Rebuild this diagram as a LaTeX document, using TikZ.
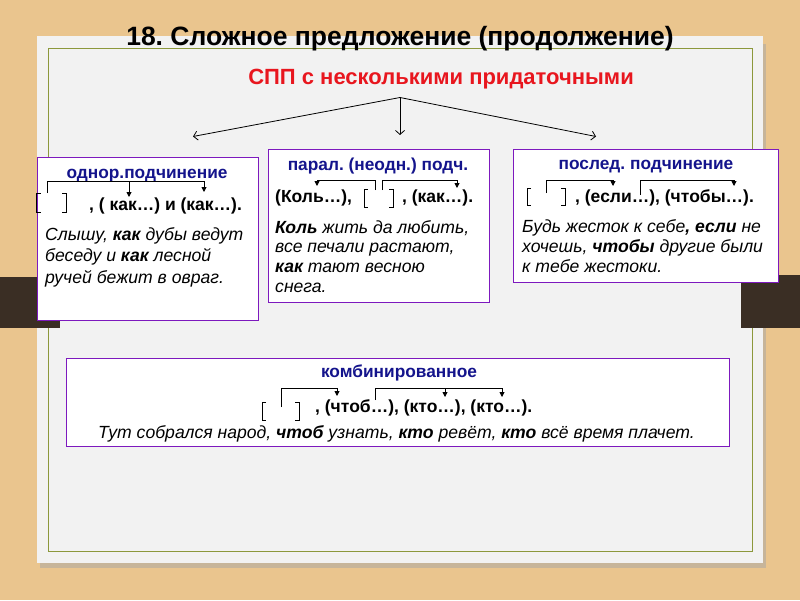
\documentclass[tikz,border=0pt]{standalone}
\usepackage{fontspec}
\setmainfont{Liberation Sans}
\usetikzlibrary{arrows.meta}
\frenchspacing
\definecolor{wood}{RGB}{234,197,142}
\definecolor{paper}{RGB}{242,242,242}
\definecolor{olive}{RGB}{140,152,60}
\definecolor{darkwood}{RGB}{58,46,36}
\definecolor{boxline}{RGB}{125,25,190}
\definecolor{ttlblue}{RGB}{20,20,140}
\definecolor{ttlred}{RGB}{232,22,30}
\tikzset{
  panel/.style={draw=boxline, line width=1.4pt, fill=white},
  boxtitle/.style={font=\fontsize{17.3}{20}\selectfont\bfseries, text=ttlblue, inner sep=0pt, anchor=base},
  schema/.style={font=\fontsize{17.5}{20}\selectfont\bfseries, inner sep=0pt, anchor=base west},
  example/.style={font=\fontsize{17.6}{20}\selectfont\itshape, inner sep=0pt, anchor=base west},
  sline/.style={line width=0.9pt},
  sarrow/.style={line width=0.9pt, -{Triangle[length=5pt,width=5pt]}},
  brk/.style={line width=0.9pt},
  toparrow/.style={line width=0.8pt, -{Straight Barb[length=4pt,width=9pt]}},
}
\newcommand{\lbrk}[3]{\draw[brk] (#1+4,#2) -- (#1,#2) -- (#1,#3) -- (#1+4,#3);}
\newcommand{\rbrk}[3]{\draw[brk] (#1-4,#2) -- (#1,#2) -- (#1,#3) -- (#1-4,#3);}
\begin{document}
\begin{tikzpicture}[x=1pt,y=-1pt]
\useasboundingbox (0,0) rectangle (800,600);
\fill[wood] (0,0) rectangle (800,600);
% paper shadow and paper
\fill[black!35, opacity=0.5] (40,44) rectangle (766,568);
\fill[paper] (37,36) rectangle (763,563);
\draw[olive, line width=0.9pt] (48,48) rectangle (752,551);
% dark strips
\fill[darkwood] (0,277) rectangle (60,328);
\fill[darkwood] (741,275) rectangle (800,328);
% titles
\node[font=\fontsize{26.5}{30}\selectfont\bfseries, inner sep=0pt, anchor=base] (title) at (400,45.5) {18. Сложное предложение (продолжение)};
\node[font=\fontsize{22}{26}\selectfont\bfseries, text=ttlred, inner sep=0pt] (sub) at (441,79) {СПП с несколькими придаточными};
\coordinate (apex) at (400,97.5);
\coordinate (eL) at (193,136.5);
\coordinate (eC) at (400,135);
\coordinate (eR) at (596,136.5);
\draw[toparrow] (apex) -- (eL);
\draw[toparrow] (apex) -- (eC);
\draw[toparrow] (apex) -- (eR);
% ---------- box 1
\node[panel, minimum width=221pt, minimum height=163pt, anchor=north west, inner sep=0pt] (b1) at (37,157) {};
\node[boxtitle] (b1t) at (147,178) {однор.подчинение};
\lbrk{36.5}{193}{212}
\rbrk{66}{193}{212}
\node[schema] (b1s) at (89,210.5) {, ( как…) и (как…).};
\draw[sline] (47,193) -- (47,181) -- (204,181);
\draw[sarrow] (129,181) -- (129,197);
\draw[sarrow] (204,181) -- (204,192);
\node[example] (b1a) at (45,240) {Слышу, \textbf{как} дубы ведут};
\node[example] (b1b) at (45,261.5) {беседу и \textbf{как} лесной};
\node[example] (b1c) at (45,283) {ручей бежит в овраг.};
% ---------- box 2
\node[panel, minimum width=221pt, minimum height=153pt, anchor=north west, inner sep=0pt] (b2) at (268,149) {};
\node[boxtitle] (b2t) at (378,170) {парал. (неодн.) подч.};
\node[schema] (b2s) at (275,202) {(Коль…),};
\lbrk{364}{189}{207}
\rbrk{393}{189}{207}
\node[schema] (b2u) at (402,202) {, (как…).};
\draw[sline] (375,190) -- (375,180) -- (317,180);
\draw[sarrow] (317,180) -- (317,186);
\draw[sline] (382,190) -- (382,180) -- (457,180);
\draw[sarrow] (457,180) -- (457,188);
\node[example] (b2a) at (275,233) {\textbf{Коль} жить да любить,};
\node[example] (b2b) at (275,252.5) {все печали растают,};
\node[example] (b2c) at (275,272) {\textbf{как} тают весною};
\node[example] (b2d) at (275,292) {снега.};
% ---------- box 3
\node[panel, minimum width=265pt, minimum height=133pt, anchor=north west, inner sep=0pt] (b3) at (513,149) {};
\node[boxtitle] (b3t) at (646,169) {послед. подчинение};
\lbrk{527}{188}{205}
\rbrk{565}{188}{205}
\node[schema] (b3s) at (575,202.5) {, (если…), (чтобы…).};
\draw[sline] (546,193) -- (546,180) -- (613,180);
\draw[sarrow] (613,180) -- (613,186);
\draw[sline] (640,195) -- (640,180) -- (734,180);
\draw[sarrow] (734,180) -- (734,186);
\node[example] (b3a) at (522,232.5) {Будь жесток к себе\textbf{, если} не};
\node[example] (b3b) at (522,252.5) {хочешь, \textbf{чтобы} другие были};
\node[example] (b3c) at (522,272.5) {к тебе жестоки.};
% ---------- box 4
\node[panel, minimum width=663pt, minimum height=88pt, anchor=north west, inner sep=0pt] (b4) at (66,358) {};
\node[boxtitle] (b4t) at (399,377) {комбинированное};
\lbrk{262}{402}{420}
\rbrk{299}{402}{420}
\node[schema] (b4s) at (315,412) {, (чтоб…), (кто…), (кто…).};
\draw[sline] (281,407) -- (281,388) -- (337,388);
\draw[sarrow] (337,388) -- (337,396);
\draw[sline] (375,400) -- (375,388) -- (502,388);
\draw[sarrow] (445,388) -- (445,397);
\draw[sarrow] (502,388) -- (502,397);
\node[example, anchor=base] (b4a) at (396.5,438.5) {Тут собрался народ, \textbf{чтоб} узнать, \textbf{кто} ревёт, \textbf{кто} всё время плачет.};
\end{tikzpicture}
\end{document}
